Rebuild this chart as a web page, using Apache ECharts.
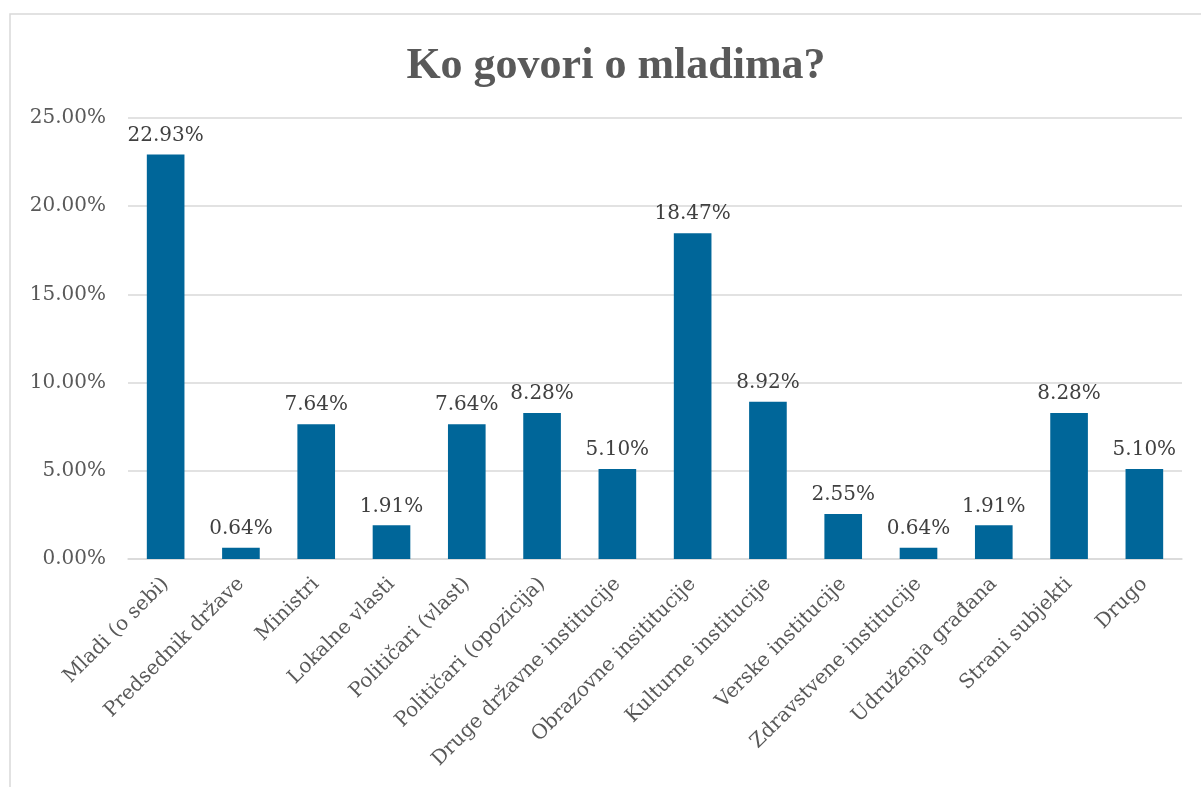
<!DOCTYPE html>
<html>
<head>
<meta charset="utf-8">
<script src="https://cdn.jsdelivr.net/npm/echarts@6/dist/echarts.min.js"></script>
<style>html,body{margin:0;padding:0;background:#fff}#c{width:1201px;height:787px}</style>
</head>
<body>
<div id="c"></div>
<script>
const categories = ["Mladi (o sebi)","Predsednik države","Ministri","Lokalne vlasti","Političari (vlast)","Političari (opozicija)","Druge državne institucije","Obrazovne insititucije","Kulturne institucije","Verske institucije","Zdravstvene institucije","Udruženja građana","Strani subjekti","Drugo"];
const values = [22.93,0.64,7.64,1.91,7.64,8.28,5.10,18.47,8.92,2.55,0.64,1.91,8.28,5.10];
const yTicks = [0,5,10,15,20,25];
const titleText = "Ko govori o mladima?";

const FONT = "DejaVu Serif";
const chart = echarts.init(document.getElementById('c'), null, {renderer:'canvas'});
chart.setOption({
  animation:false,
  backgroundColor:'#fff',
  title:{text:titleText,left:611,top:40,textAlign:'center',
    textStyle:{fontFamily:'Liberation Serif',fontWeight:'bold',fontSize:44,color:'#595959'}},
  graphic:[{type:'rect',shape:{x:10,y:14,width:1220,height:800},style:{fill:'none',stroke:'#d9d9d9',lineWidth:1.5},silent:true}],
  grid:{left:128,right:19,top:118,bottom:228,containLabel:false},
  xAxis:{type:'category',data:categories,
    axisLine:{lineStyle:{color:'#d9d9d9',width:1.5}},axisTick:{show:false},
    axisLabel:{rotate:45,interval:0,margin:22,fontFamily:FONT,fontSize:20,color:'#595959'}},
  yAxis:{type:'value',min:yTicks[0],max:yTicks[yTicks.length-1],interval:5,
    axisLine:{show:false},axisTick:{show:false},
    splitLine:{lineStyle:{color:'#d9d9d9',width:1.5}},
    axisLabel:{margin:22,fontFamily:FONT,fontSize:20,color:'#595959',formatter:v=>v.toFixed(2)+'%'}},
  series:[{type:'bar',data:values,barWidth:'50%',
    itemStyle:{color:'#006699'},
    label:{show:true,position:'top',distance:9,fontFamily:FONT,fontSize:20,color:'#404040',
      formatter:p=>p.value.toFixed(2)+'%'}}]
});
</script>
</body>
</html>
